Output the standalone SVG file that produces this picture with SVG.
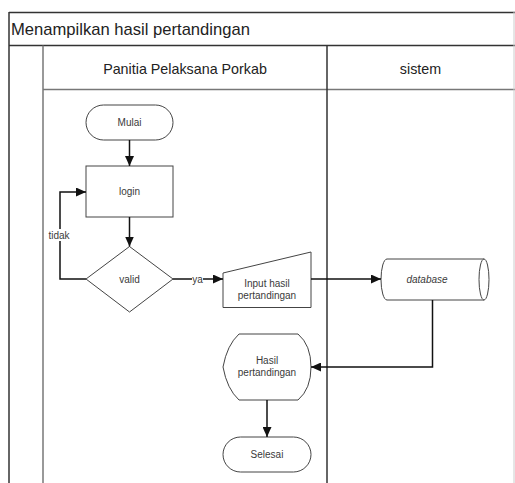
<svg xmlns="http://www.w3.org/2000/svg" width="515" height="483" viewBox="0 0 515 483">
<style>
  .frame{stroke:#333;stroke-width:1.5;fill:none}
  .lane{stroke:#777;stroke-width:1.5;fill:none}
  .shape{fill:#fff;stroke:#444;stroke-width:1}
  .txt{font-family:"Liberation Sans",Arial,sans-serif;font-size:10px;fill:#3a3a3a;text-anchor:middle}
  .hdr{font-family:"Liberation Sans",Arial,sans-serif;fill:#222}
  .conn{stroke:#111;stroke-width:1.5;fill:none;marker-end:url(#arr)}
</style>
<defs>
  <marker id="arr" viewBox="0 0 10 10" refX="10" refY="5" markerWidth="10" markerHeight="9" markerUnits="userSpaceOnUse" orient="auto" preserveAspectRatio="none">
    <path d="M0,0 L10,5 L0,10 Z" fill="#111"/>
  </marker>
</defs>
<rect width="515" height="483" fill="#fff"/>
<g id="pool">
  <line x1="9" y1="12.5" x2="515" y2="12.5" class="frame"/>
  <line x1="9" y1="45.5" x2="515" y2="45.5" class="frame"/>
  <line x1="9" y1="12" x2="9" y2="483" class="frame"/>
  <line x1="43" y1="45.5" x2="43" y2="483" class="lane"/>
  <line x1="43" y1="89.5" x2="515" y2="89.5" class="lane"/>
  <line x1="327" y1="45.5" x2="327" y2="483" class="frame"/>
  <line x1="514" y1="12" x2="514" y2="483" stroke="#ccc" stroke-width="1"/>
  <text x="11" y="35" class="hdr" font-size="16.6">Menampilkan hasil pertandingan</text>
  <text x="185" y="74" class="hdr" font-size="14.3" text-anchor="middle">Panitia Pelaksana Porkab</text>
  <text x="420.5" y="74" class="hdr" font-size="14.3" text-anchor="middle">sistem</text>
</g>
<g id="mulai">
  <rect x="86" y="105" width="87" height="35" rx="17.5" class="shape"/>
  <text x="129.5" y="126" class="txt">Mulai</text>
</g>
<g id="login">
  <rect x="86" y="166" width="87" height="51" class="shape"/>
  <text x="129.5" y="195" class="txt">login</text>
</g>
<g id="valid">
  <polygon points="129.5,246.5 173,279 129.5,312 86,279" class="shape"/>
  <text x="129.5" y="282.5" class="txt">valid</text>
</g>
<g id="input">
  <polygon points="223,273 311,252 311,307.5 223,307.5" class="shape"/>
  <text x="267" y="287" class="txt">Input hasil</text>
  <text x="267" y="299" class="txt">pertandingan</text>
</g>
<g id="database">
  <path d="M387,259 L484,259 A5,20.5 0 0 1 484,300 L387,300 A6,20.5 0 0 1 387,259 Z" class="shape"/>
  <path d="M484,259 A5,20.5 0 0 0 484,300" class="shape" fill="none"/>
  <text x="427" y="283" class="txt" font-style="italic">database</text>
</g>
<g id="hasil">
  <path d="M223,367 Q227,345 239,334 L298,334 Q311,345 311,367 Q311,389 298,400 L239,400 Q227,389 223,367 Z" class="shape"/>
  <text x="267" y="364" class="txt">Hasil</text>
  <text x="267" y="376" class="txt">pertandingan</text>
</g>
<g id="selesai">
  <rect x="223" y="437" width="88" height="35" rx="17.5" class="shape"/>
  <text x="267" y="458" class="txt">Selesai</text>
</g>
<g id="connectors">
  <line x1="129.5" y1="140" x2="129.5" y2="166" class="conn"/>
  <line x1="129.5" y1="217" x2="129.5" y2="246.5" class="conn"/>
  <polyline points="86,279 60,279 60,192 86,192" class="conn"/>
  <line x1="173" y1="279" x2="223" y2="279" class="conn"/>
  <line x1="311" y1="279" x2="381" y2="279" class="conn"/>
  <polyline points="432.5,300 432.5,367 311,367" class="conn"/>
  <line x1="267" y1="400" x2="267" y2="437" class="conn"/>
  <rect x="48" y="229" width="24" height="12" fill="#fff"/>
  <text x="59" y="238.5" class="txt">tidak</text>
  <rect x="192" y="273" width="11" height="12" fill="#fff"/>
  <text x="197.5" y="282.5" class="txt">ya</text>
</g>
</svg>
